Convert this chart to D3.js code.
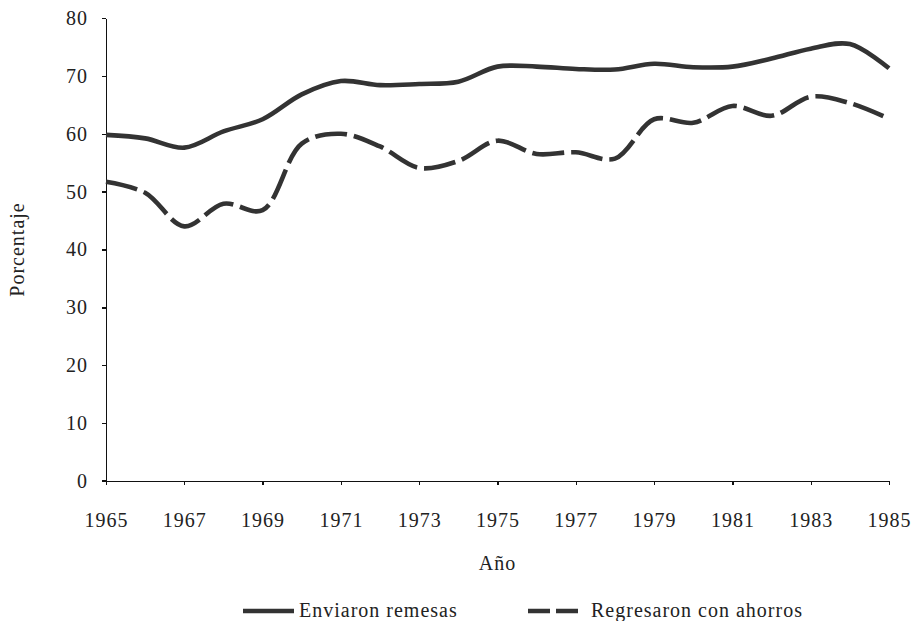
<!DOCTYPE html>
<html>
<head>
<meta charset="utf-8">
<title>Remesas y ahorros</title>
<style>
  body {
    margin: 0;
    background: #fff;
  }
  svg text {
    font-family: "Liberation Serif", "DejaVu Serif", "Times New Roman", serif !important;
    fill: #222;
  }
  .axis path, .axis line {
    fill: none;
    stroke: #111;
    stroke-width: 1.3;
    shape-rendering: crispEdges;
  }
  .line {
    fill: none;
    stroke: #333;
    stroke-width: 4.6;
  }
</style>
</head>
<body>
<svg width="911" height="621" font-family="Liberation Serif, serif"></svg>
<script src="https://d3js.org/d3.v7.min.js"></script>
<script>

  // data
  var years = [1965, 1966, 1967, 1968, 1969, 1970, 1971, 1972, 1973, 1974, 1975,
               1976, 1977, 1978, 1979, 1980, 1981, 1982, 1983, 1984, 1985];
  var remesas = [59.8, 59.2, 57.6, 60.4, 62.5, 66.8, 69.1, 68.4, 68.6, 69.0, 71.6,
                 71.6, 71.2, 71.1, 72.1, 71.5, 71.6, 73.0, 74.7, 75.5, 71.3];
  var ahorros = [51.7, 49.8, 44.0, 47.9, 46.8, 58.3, 60.0, 57.8, 54.1, 55.3, 58.8,
                 56.5, 56.8, 55.7, 62.5, 61.9, 64.8, 63.1, 66.4, 65.3, 62.6];
  var yTicks = [0, 10, 20, 30, 40, 50, 60, 70, 80];
  var xTicks = [1965, 1967, 1969, 1971, 1973, 1975, 1977, 1979, 1981, 1983, 1985];
  var seriesNames = ["Enviaron remesas", "Regresaron con ahorros"];

  var svg = d3.select("svg"),
      margin = {top: 18, right: 22, bottom: 140, left: 106},
      width = +svg.attr("width") - margin.left - margin.right,
      height = +svg.attr("height") - margin.top - margin.bottom,
      g = svg.append("g").attr("transform", "translate(" + margin.left + "," + margin.top + ")");

  var x = d3.scaleLinear().domain([1965, 1985]).range([0, width]);
  var y = d3.scaleLinear().domain([0, 80]).range([height, 0]);

  var line = d3.line()
    .x(function(d) { return x(d.year); })
    .y(function(d) { return y(d.value); })
    .curve(d3.curveCatmullRom.alpha(0.5));

  function pairs(values) {
    return years.map(function(yr, i) { return {year: yr, value: values[i]}; });
  }

  // axes
  var yAxis = g.append("g")
    .attr("class", "axis")
    .call(d3.axisLeft(y).tickValues(yTicks).tickSize(4).tickSizeOuter(0).tickPadding(14));
  yAxis.attr("font-family", null);
  yAxis.selectAll("text").attr("font-size", 20).attr("letter-spacing", "1px");

  var xAxis = g.append("g")
    .attr("class", "axis")
    .attr("transform", "translate(0," + height + ")")
    .call(d3.axisBottom(x).tickValues(xTicks).tickFormat(d3.format("d"))
      .tickSize(4).tickSizeOuter(0).tickPadding(28));
  xAxis.attr("font-family", null);
  xAxis.selectAll("text").attr("font-size", 20).attr("letter-spacing", "1px");

  // x axis extends to the 0 tick on the left
  xAxis.append("line")
    .attr("x1", -4).attr("x2", 0)
    .attr("y1", 0).attr("y2", 0);

  g.append("text")
    .attr("x", width / 2)
    .attr("y", height + 89)
    .attr("text-anchor", "middle")
    .attr("font-size", 20)
    .attr("letter-spacing", "1px")
    .text("Año");

  svg.append("text")
    .attr("transform", "translate(24," + (margin.top + height / 2) + ") rotate(-90)")
    .attr("text-anchor", "middle")
    .attr("font-size", 20)
    .attr("letter-spacing", "1px")
    .text("Porcentaje");

  // lines
  g.append("path")
    .datum(pairs(remesas))
    .attr("class", "line")
    .attr("d", line);

  g.append("path")
    .datum(pairs(ahorros))
    .attr("class", "line")
    .attr("stroke-dasharray", "32,7")
    .attr("d", line);

  // legend
  var legend = svg.append("g")
    .selectAll("g")
    .data(seriesNames)
    .enter().append("g")
    .attr("transform", function(d, i) { return "translate(" + [243, 528][i] + ",611)"; });

  legend.append("line")
    .attr("x1", 0).attr("x2", 51)
    .attr("y1", 0).attr("y2", 0)
    .attr("stroke", "#333")
    .attr("stroke-width", 4.6)
    .attr("stroke-dasharray", function(d, i) { return i ? "22,6" : null; });

  legend.append("text")
    .attr("x", function(d, i) { return i ? 63 : 56; })
    .attr("y", 0)
    .attr("dy", "0.32em")
    .attr("font-size", 20)
    .attr("letter-spacing", "1px")
    .text(function(d) { return d; });

</script>
</body>
</html>
